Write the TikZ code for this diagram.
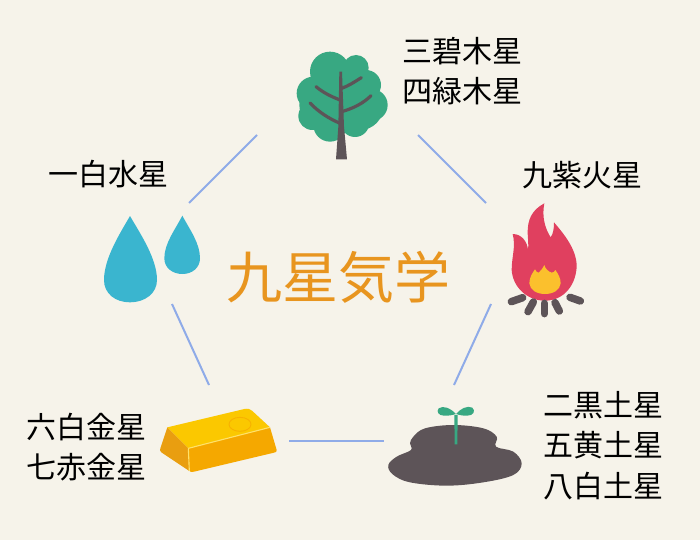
\documentclass[tikz,border=0pt]{standalone}
\usepackage{fontspec}
\newfontfamily\jp{Noto Sans CJK JP}
\definecolor{bgc}{HTML}{F6F3EA}
\definecolor{linkc}{HTML}{8FABE8}
\definecolor{titlec}{HTML}{E8951F}
\definecolor{treec}{HTML}{38A882}
\definecolor{darkc}{HTML}{5D5458}
\definecolor{flamec}{HTML}{E0405F}
\definecolor{yelc}{HTML}{FBC02D}
\definecolor{dropc}{HTML}{3AB5CF}
\definecolor{goldt}{HTML}{FBC800}
\definecolor{goldf}{HTML}{F5A800}
\definecolor{goldl}{HTML}{E99E10}
\definecolor{goldh}{HTML}{FFE16A}
\tikzset{
  lbl/.style={font=\jp\fontsize{30}{40.5}\selectfont,text=black,align=left,inner sep=0pt},
  title/.style={font=\jp\fontsize{56}{60}\selectfont,text=titlec,inner sep=0pt},
  link/.style={draw=linkc,line width=2pt},
  icon/.style={x=0.33333pt,y=-0.33333pt},
  branch/.style={draw=darkc,line cap=round,line width=3.2pt},
  stick/.style={draw=darkc,line cap=round,line width=7.5pt},
}
\begin{document}
\begin{tikzpicture}[x=1pt,y=-1pt]
\fill[bgc] (0,0) rectangle (700,540);
\useasboundingbox (0,0) rectangle (700,540);
% tree
\begin{scope}[shift={(280,30)},icon]
\fill[treec] (185,200) circle [radius=100];
\fill[treec] (130,225) circle [radius=72];
\fill[treec] (240,230) circle [radius=70];
\fill[treec] (150,125) circle [radius=60];
\fill[treec] (228,113) circle [radius=38];
\fill[treec] (100,190) circle [radius=50];
\fill[treec] (258,165) circle [radius=45];
\fill[treec] (275,225) circle [radius=48];
\fill[treec] (97,258) circle [radius=42];
\fill[treec] (225,278) circle [radius=43];
\fill[treec] (150,285) circle [radius=50];
\fill[darkc] (168,388) -- (201,388) -- (192,290) -- (186,125) -- (178,125) -- (175,290) -- cycle;
\draw[branch] (180,210) .. controls (150,198) and (130,188) .. (108,170);
\draw[branch] (185,175) .. controls (205,168) and (225,155) .. (244,143);
\draw[branch] (180,280) .. controls (145,265) and (115,245) .. (90,219);
\draw[branch] (185,245) .. controls (220,235) and (250,220) .. (273,197);
\end{scope}
% flame
\begin{scope}[shift={(490,190)},icon]
\fill[flamec] (163,40) .. controls (125,60) and (112,90) .. (113,130) .. controls (114,150) and (116,165) .. (114,180)
  .. controls (112,155) and (95,132) .. (68,132) .. controls (78,170) and (65,200) .. (65,240)
  .. controls (68,290) and (110,332) .. (165,332) .. controls (225,332) and (260,280) .. (260,225)
  .. controls (258,175) and (220,130) .. (192,97) .. controls (192,115) and (190,130) .. (182,142)
  .. controls (165,115) and (155,80) .. (163,40) -- cycle;
\fill[yelc] (163,225) .. controls (165,235) and (175,245) .. (185,248) .. controls (190,248) and (194,245) .. (196,240)
  .. controls (205,252) and (212,265) .. (212,280) .. controls (210,300) and (190,312) .. (165,312)
  .. controls (140,312) and (120,300) .. (118,280) .. controls (118,262) and (128,248) .. (135,238)
  .. controls (138,245) and (142,248) .. (146,248) .. controls (152,243) and (158,235) .. (163,225) -- cycle;
\draw[stick] (64,335) -- (98,323);
\draw[stick] (114,365) -- (130,336);
\draw[stick] (163,371) -- (163,340);
\draw[stick] (208,363) -- (195,338);
\draw[stick] (271,333) -- (240,322);
\end{scope}
% drops
\begin{scope}[shift={(95,205)},icon]
\fill[dropc] (105,33) .. controls (75,85) and (27,160) .. (27,225) .. controls (27,265) and (60,292) .. (105,292)
  .. controls (150,292) and (186,265) .. (186,225) .. controls (186,160) and (135,85) .. (105,33) -- cycle;
\fill[dropc] (262,32) .. controls (240,75) and (208,115) .. (208,160) .. controls (208,188) and (232,207) .. (262,207)
  .. controls (292,207) and (315,188) .. (315,160) .. controls (315,115) and (285,75) .. (262,32) -- cycle;
\end{scope}
% gold
\begin{scope}[shift={(150,395)},icon]
\fill[goldt] (52,97) -- (283,42) .. controls (295,40) and (300,42) .. (306,47) -- (360,97) -- (115,160) -- cycle;
\fill[goldf] (115,160) -- (360,97) -- (380,165) .. controls (381,170) and (378,172) .. (372,173) -- (132,230) .. controls (122,232) and (118,230) .. (118,225) -- cycle;
\fill[goldl] (52,97) -- (115,160) -- (118,228) -- (34,172) .. controls (30,168) and (29,165) .. (31,160) -- cycle;
\draw[goldh,line width=1.1pt] (115,160) -- (360,97);
\draw[goldh,line width=1.1pt] (115,160) -- (118,228);
\draw[goldf!70!goldt,line width=0.9pt] (270,88) ellipse [x radius=33,y radius=21];
\end{scope}
% soil
\begin{scope}[shift={(380,395)},icon]
\fill[darkc] plot[smooth cycle,tension=0.6] coordinates {(100,125)(135,100)(220,90)(310,100)(350,125)(348,155)(400,170)(425,205)(400,240)(310,262)(200,272)(90,262)(38,238)(25,210)(50,185)(93,165)(90,145)};
\fill[treec] (223,60) -- (233,60) -- (232,148) -- (224,148) -- cycle;
\fill[treec] (228,57) .. controls (212,40) and (190,30) .. (176,40) .. controls (168,50) and (176,62) .. (192,62) .. controls (205,63) and (218,60) .. (228,57) -- cycle;
\fill[treec] (228,57) .. controls (240,42) and (262,30) .. (277,38) .. controls (288,48) and (280,62) .. (262,62) .. controls (250,63) and (238,60) .. (228,57) -- cycle;
\end{scope}
% labels
\node[title] (t) at (338,277) {九星気学};
\node[lbl] (wood) at (462,71) {三碧木星\\四緑木星};
\node[lbl] (fire) at (582,175.5) {九紫火星};
\node[lbl] (water) at (108,174.5) {一白水星};
\node[lbl] (metal) at (86,447) {六白金星\\七赤金星};
\node[lbl] (earth) at (603,445.5) {二黒土星\\五黄土星\\八白土星};
% connectors
\coordinate (a1) at (257,135); \coordinate (a2) at (189,203);
\coordinate (b1) at (418,135); \coordinate (b2) at (486,203);
\coordinate (c1) at (172,304); \coordinate (c2) at (209,385);
\coordinate (d1) at (491,304); \coordinate (d2) at (454,385);
\coordinate (e1) at (289,441); \coordinate (e2) at (384,441);
\draw[link] (a1) -- (a2);
\draw[link] (b1) -- (b2);
\draw[link] (c1) -- (c2);
\draw[link] (d1) -- (d2);
\draw[link] (e1) -- (e2);
\end{tikzpicture}
\end{document}
